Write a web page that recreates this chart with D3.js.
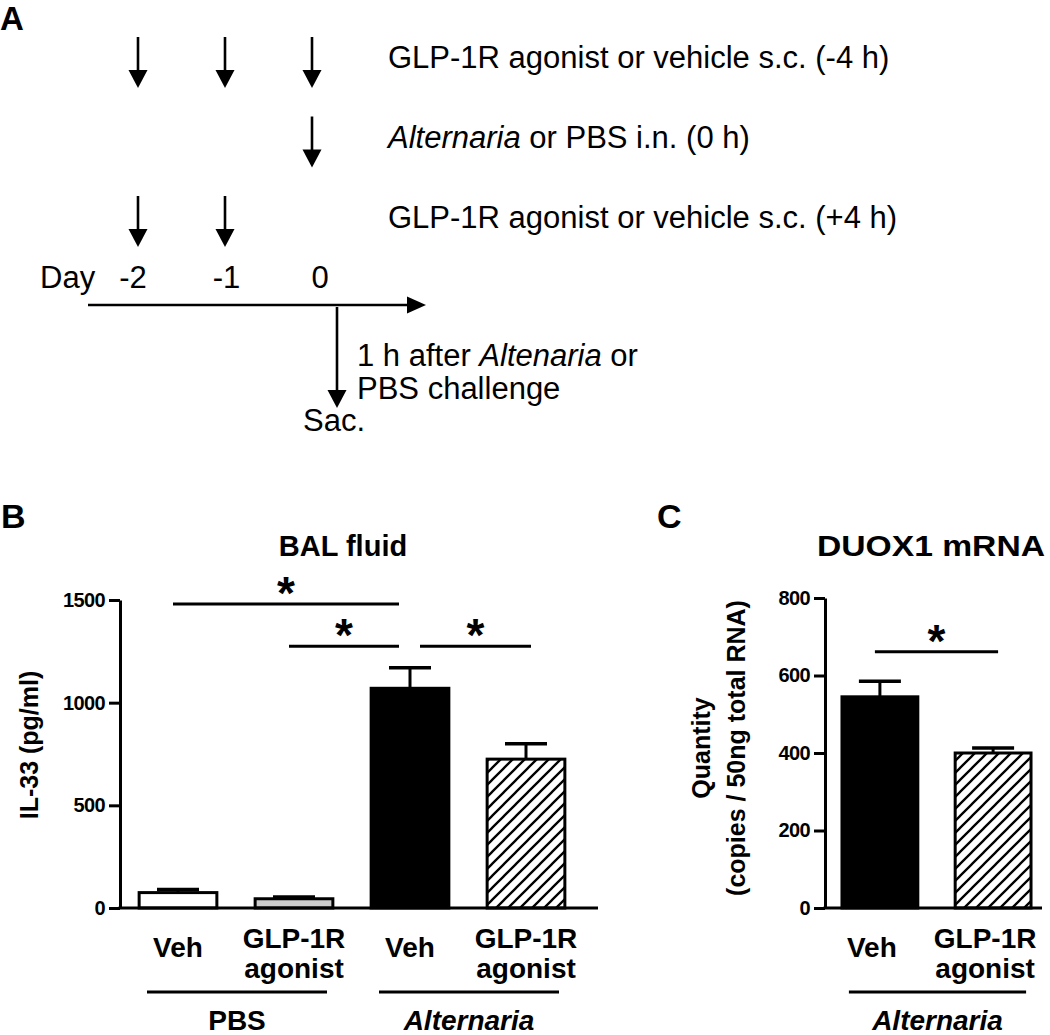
<!DOCTYPE html>
<html>
<head>
<meta charset="utf-8">
<script src="https://cdn.jsdelivr.net/npm/d3@7"></script>
<style>
  body { margin: 0; background: #fff; }
  svg { display: block; font-family: Arial, "Liberation Sans", sans-serif; }
</style>
</head>
<body>
<svg id="fig" width="1050" height="1035"></svg>
<script>
// ---- data ----
// panel A: dosing schedule
const scheduleDays = [-2, -1, 0];
const dayLabels = ["-2", "-1", "0"];
const preDoseDays = [-2, -1, 0];
const challengeDays = [0];
const postDoseDays = [-2, -1];
const preDoseText = [["GLP-1R agonist or vehicle s.c. (-4 h)", false]];
const challengeText = [["Alternaria", true], [" or PBS i.n. (0 h)", false]];
const postDoseText = [["GLP-1R agonist or vehicle s.c. (+4 h)", false]];
const sacText1 = [["1 h after ", false], ["Altenaria", true], [" or", false]];
const sacText2 = [["PBS challenge", false]];

// panel B: IL-33 in BAL fluid
const bCategories = ["Veh", "GLP-1R agonist", "Veh", "GLP-1R agonist"];
const bGroups = ["PBS", "Alternaria"];
const il33Mean = [75, 45, 1070, 725];
const il33Sem = [15, 8, 100, 75];
const bTicks = [0, 500, 1000, 1500];
const bSig = [[0, 2, 1480], [1, 2, 1275], [2, 3, 1275]];

// panel C: DUOX1 mRNA
const cCategories = ["Veh", "GLP-1R agonist"];
const cGroups = ["Alternaria"];
const duoxMean = [545, 400];
const duoxSem = [40, 13];
const cTicks = [0, 200, 400, 600, 800];
const cSig = [[0, 1, 661]];

const svg = d3.select("#fig");

// hatch pattern for the agonist + Alternaria bars
svg.append("defs").append("pattern")
    .attr("id", "hatch")
    .attr("patternUnits", "userSpaceOnUse")
    .attr("width", 12).attr("height", 12)
  .append("path")
    .attr("d", "M-3,3 L3,-3 M0,12 L12,0 M9,15 L15,9")
    .attr("stroke", "black")
    .attr("stroke-width", 2.3);

// ---- panel A ----
const gA = svg.append("g");
gA.append("text").attr("x", 0).attr("y", 30)
    .attr("font-size", 33).attr("font-weight", "bold").text("A");

const xDay = d3.scaleLinear().domain([-2, 0]).range([138, 312]);
const xDayLabel = d3.scaleLinear().domain([-2, 0]).range([133, 320]);

function downArrow(g, x, y1, y2) {
    g.append("line").attr("x1", x).attr("x2", x).attr("y1", y1).attr("y2", y2 - 14)
        .attr("stroke", "black").attr("stroke-width", 2.6);
    g.append("path").attr("d", `M${x - 9.5},${y2 - 18} L${x + 9.5},${y2 - 18} L${x},${y2} Z`)
        .attr("fill", "black");
}

function richText(g, x, y, parts, size) {
    const t = g.append("text").attr("x", x).attr("y", y).attr("font-size", size);
    parts.forEach(p => {
        t.append("tspan").attr("font-style", p[1] ? "italic" : "normal").text(p[0]);
    });
    return t;
}

const rows = [[preDoseDays, preDoseText], [challengeDays, challengeText], [postDoseDays, postDoseText]];
rows.forEach((r, i) => {
    const top = 37 + i * 79.5;
    r[0].forEach(d => downArrow(gA, xDay(d), top, top + 51));
    richText(gA, 388, 68 + i * 80, r[1], 31);
});

gA.append("text").attr("x", 40).attr("y", 288).attr("font-size", 31).text("Day");
gA.selectAll("text.day").data(scheduleDays).join("text")
    .attr("class", "day")
    .attr("x", d => xDayLabel(d)).attr("y", 288)
    .attr("text-anchor", "middle").attr("font-size", 31)
    .text((d, i) => dayLabels[i]);

// timeline
gA.append("line").attr("x1", 88).attr("x2", 410).attr("y1", 305).attr("y2", 305)
    .attr("stroke", "black").attr("stroke-width", 2.6);
gA.append("path").attr("d", "M407,296.5 L407,313.5 L426,305 Z").attr("fill", "black");

// sacrifice
downArrow(gA, 337, 307, 408);
richText(gA, 357, 366, sacText1, 31);
richText(gA, 357, 399, sacText2, 31);
gA.append("text").attr("x", 303).attr("y", 431).attr("font-size", 31).text("Sac.");

// ---- bar panels ----
function barPanel(o) {
    const g = svg.append("g");
    const y = d3.scaleLinear().domain([0, o.ticks[o.ticks.length - 1]]).range([o.y0, o.y1]);
    const x = d3.scaleBand().domain(d3.range(o.means.length))
        .range([o.x0, o.x1]).paddingInner(o.padIn).paddingOuter(o.padOut);
    const bw = x.bandwidth();
    const cx = i => x(i) + bw / 2;

    // panel letter and title
    g.append("text").attr("x", o.letterX).attr("y", 528)
        .attr("font-size", 34).attr("font-weight", "bold").text(o.letter);
    const title = g.append("text").attr("x", o.titleX).attr("y", 556).attr("text-anchor", "middle")
        .attr("font-size", 29).attr("font-weight", "bold").text(o.title);
    if (o.titleLen) title.attr("textLength", o.titleLen).attr("lengthAdjust", "spacingAndGlyphs");

    // y axis
    const ax = g.append("g").attr("transform", `translate(${o.x0},0)`)
        .call(d3.axisLeft(y).tickValues(o.ticks).tickFormat(d3.format("d"))
            .tickSize(11).tickSizeOuter(0).tickPadding(4));
    ax.select(".domain").attr("stroke-width", 3);
    ax.selectAll(".tick line").attr("stroke-width", 3);
    ax.selectAll(".tick text").attr("font-size", 20).attr("font-weight", "bold")
        .attr("font-family", "Arial, 'Liberation Sans', sans-serif")
        .attr("letter-spacing", "-0.6px").attr("fill", "black");

    // y label
    o.yLabel.forEach((l, i) => {
        g.append("text")
            .attr("transform", `translate(${o.yLabelX[i]},${o.yLabelY}) rotate(-90)`)
            .attr("text-anchor", "middle").attr("font-size", 25).attr("font-weight", "bold")
            .text(l);
    });

    // bars
    g.selectAll("rect.bar").data(o.means).join("rect")
        .attr("class", "bar")
        .attr("x", (d, i) => x(i)).attr("width", bw)
        .attr("y", d => y(d)).attr("height", d => y(0) - y(d))
        .attr("fill", (d, i) => o.fills[i])
        .attr("stroke", "black").attr("stroke-width", 3);

    // error bars (upper only)
    const eb = g.selectAll("g.err").data(o.means).join("g").attr("class", "err");
    eb.append("line")
        .attr("x1", (d, i) => cx(i)).attr("x2", (d, i) => cx(i))
        .attr("y1", d => y(d)).attr("y2", (d, i) => y(d + o.sems[i]))
        .attr("stroke", "black").attr("stroke-width", 3);
    eb.append("line")
        .attr("x1", (d, i) => cx(i) - 21).attr("x2", (d, i) => cx(i) + 21)
        .attr("y1", (d, i) => y(d + o.sems[i])).attr("y2", (d, i) => y(d + o.sems[i]))
        .attr("stroke", "black").attr("stroke-width", 3.5);

    // x baseline
    g.append("line").attr("x1", o.x0 - 1.5).attr("x2", o.xEnd)
        .attr("y1", y(0)).attr("y2", y(0))
        .attr("stroke", "black").attr("stroke-width", 3);

    // significance
    o.sig.forEach(s => {
        const [a, b, v] = s;
        const shareLeft = o.sig.some(t => t !== s && t[1] === a);
        const shareRight = o.sig.some(t => t !== s && t[0] === b);
        const xa = cx(a) + (shareLeft ? 10 : -5);
        const xb = cx(b) + (shareRight ? -11 : 5);
        g.append("line").attr("x1", xa).attr("x2", xb)
            .attr("y1", y(v)).attr("y2", y(v))
            .attr("stroke", "black").attr("stroke-width", 3);
        g.append("text").attr("x", (xa + xb) / 2).attr("y", y(v) + 5)
            .attr("text-anchor", "middle").attr("font-size", 46).attr("font-weight", "bold")
            .text("*");
    });

    // category labels
    o.categories.forEach((c, i) => {
        const words = c.split(" ");
        if (words.length === 1) {
            g.append("text").attr("x", cx(i) + o.labelDx).attr("y", y(0) + 49)
                .attr("text-anchor", "middle").attr("font-size", 28).attr("font-weight", "bold")
                .text(c);
        } else {
            words.forEach((w, k) => {
                g.append("text").attr("x", cx(i) + o.labelDx).attr("y", y(0) + 40 + k * 30)
                    .attr("text-anchor", "middle").attr("font-size", 28).attr("font-weight", "bold")
                    .text(w);
            });
        }
    });

    // group underlines
    o.groups.forEach((grp, j) => {
        const l = cx(2 * j) - 31, r = cx(2 * j + 1) + 33;
        g.append("line").attr("x1", l).attr("x2", r)
            .attr("y1", y(0) + 84).attr("y2", y(0) + 84)
            .attr("stroke", "black").attr("stroke-width", 3);
        g.append("text").attr("x", (l + r) / 2).attr("y", y(0) + 122)
            .attr("text-anchor", "middle").attr("font-size", 28).attr("font-weight", "bold")
            .attr("font-style", grp === "Alternaria" ? "italic" : "normal")
            .text(grp);
    });
}

barPanel({
    letter: "B", letterX: 1, title: "BAL fluid", titleX: 343,
    means: il33Mean, sems: il33Sem, ticks: bTicks, categories: bCategories, groups: bGroups,
    sig: bSig, fills: ["white", "#cccccc", "black", "url(#hatch)"],
    x0: 120, x1: 584, padIn: 0.33, padOut: 0.165, xEnd: 598, labelDx: 0,
    y0: 908, y1: 600,
    yLabel: ["IL-33 (pg/ml)"], yLabelX: [38], yLabelY: 745
});

barPanel({
    letter: "C", letterX: 657, title: "DUOX1 mRNA", titleX: 931, titleLen: 228,
    means: duoxMean, sems: duoxSem, ticks: cTicks, categories: cCategories, groups: cGroups,
    sig: cSig, fills: ["black", "url(#hatch)"],
    x0: 825, x1: 1048, padIn: 0.33, padOut: 0.15, xEnd: 1042, labelDx: -8,
    y0: 908, y1: 598,
    yLabel: ["Quantity", "(copies / 50ng total RNA)"], yLabelX: [710, 745], yLabelY: 748
});
</script>
</body>
</html>
